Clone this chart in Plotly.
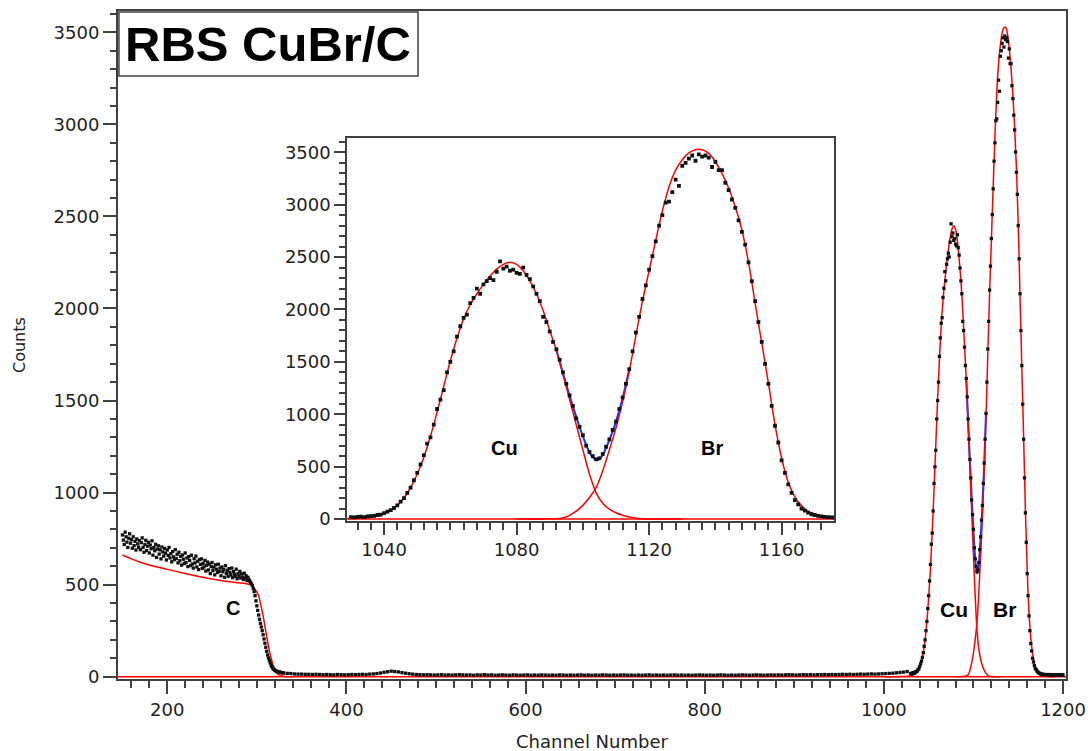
import numpy as np
import plotly.graph_objects as go

# ---------------- measured spectrum (counts per channel) ----------------
c_start, c_step = 150, 1
c_counts = [770, 742, 718, 785, 760, 731, 702, 752, 776, 725,
            744, 698, 760, 712, 735, 688, 748, 721, 703, 739,
            690, 728, 754, 702, 676, 718, 741, 685, 709, 730,
            672, 715, 695, 738, 660, 702, 684, 719, 648, 693,
            711, 666, 689, 640, 705, 678, 655, 697, 671, 634,
            688, 659, 702, 645, 668, 624, 680, 651, 636, 690,
            642, 665, 618, 676, 630, 654, 606, 661, 638, 615,
            672, 620, 645, 598, 652, 631, 604, 660, 612, 590,
            641, 618, 655, 596, 627, 582, 636, 610, 640, 588,
            615, 596, 632, 574, 605, 623, 580, 612, 560, 598,
            620, 576, 595, 553, 608, 584, 566, 611, 572, 590,
            548, 596, 570, 582, 540, 603, 561, 578, 545, 587,
            566, 552, 590, 538, 571, 556, 545, 584, 532, 560,
            548, 572, 536, 558, 541, 528, 562, 534, 548, 522,
            540, 528, 520, 512, 505, 495, 480, 462, 440, 412,
            385, 360, 335, 312, 290, 270, 250, 228, 205, 182,
            160, 138, 118, 102, 88, 74, 62, 52, 45, 40,
            35, 32, 30, 28, 26, 25, 24, 23, 22, 21]

flat_start, flat_step = 330, 4
flat_counts = [20, 18, 17, 15, 14, 14, 13, 13, 12, 13, 12, 11, 12, 11, 10, 12, 11, 10, 11, 12, 11, 12, 13, 12, 14,
               15, 17, 20, 24, 27, 30, 28, 26, 22, 19, 16, 14, 12, 11, 10, 11, 10, 9, 10, 11, 9, 10, 9, 10, 11,
               10, 9, 10, 8, 10, 9, 11, 9, 10, 8, 9, 10, 9, 8, 10, 9, 8, 9, 10, 8, 9, 8, 10, 9, 8,
               9, 8, 10, 9, 8, 9, 8, 9, 10, 8, 9, 8, 9, 8, 10, 9, 8, 9, 8, 9, 10, 8, 9, 8, 9,
               8, 9, 10, 8, 9, 8, 9, 8, 9, 10, 8, 9, 8, 9, 8, 9, 10, 9, 8, 9, 8, 9, 10, 9, 8,
               9, 8, 9, 10, 9, 8, 9, 10, 9, 8, 9, 10, 9, 10, 9, 10, 11, 10, 9, 10, 11, 10, 11, 10, 11,
               11, 12, 11, 12, 11, 12, 13, 12, 13, 12, 13, 14, 13, 14, 15, 14, 15, 16, 17, 18, 19, 21, 23, 25, 28]

peak_start, peak_step = 1030, 1
peak_counts = [18, 15, 20, 22, 18, 25, 28, 30, 38, 42,
               55, 70, 85, 105, 130, 165, 200, 250, 300, 370,
               440, 520, 610, 720, 780, 900, 1050, 1140, 1230, 1400,
               1500, 1600, 1740, 1840, 1920, 1950, 2060, 2110, 2200, 2150,
               2240, 2270, 2300, 2280, 2360, 2460, 2390, 2410, 2370, 2380,
               2350, 2340, 2400, 2330, 2290, 2220, 2150, 2080, 1930, 1880,
               1790, 1690, 1620, 1520, 1400, 1290, 1180, 1080, 960, 880,
               800, 700, 640, 600, 570, 580, 620, 690, 760, 850,
               930, 1050, 1160, 1290, 1430, 1600, 1780, 1930, 2100, 2230,
               2380, 2510, 2650, 2800, 2900, 3020, 3030, 3120, 3240, 3180,
               3370, 3400, 3440, 3470, 3420, 3480, 3460, 3470, 3450, 3360,
               3410, 3330, 3330, 3210, 3140, 3050, 2970, 2850, 2740, 2620,
               2450, 2270, 2080, 1880, 1690, 1480, 1290, 1080, 890, 730,
               560, 440, 330, 250, 180, 140, 100, 80, 60, 45,
               38, 30, 25, 20, 18, 15,
               14, 12, 13, 11, 12, 10, 11, 12, 10, 11, 9, 10, 11, 10, 9,
               10, 11, 9, 10, 10, 9, 10, 11, 10, 9]

# ---------------- fitted components ----------------
c_fit_ch = [150, 160, 170, 180, 190, 200, 210, 220, 230, 240, 250, 260, 270, 280, 288, 292, 296,
            300, 302, 304, 306, 308, 310, 312, 314, 316, 318, 320, 322, 325, 330, 340]
c_fit = [661, 640, 622, 607, 594, 583, 572, 561, 550, 540, 531, 523, 516, 510, 505, 500, 488,
         460, 440, 400, 355, 305, 245, 190, 140, 100, 65, 38, 22, 10, 3, 0]

cu_fit_ch = [1000, 1020, 1026, 1030, 1032, 1034, 1036, 1038, 1040, 1042, 1044, 1046, 1048, 1050,
             1052, 1054, 1056, 1058, 1060, 1062, 1064, 1066, 1068, 1070, 1072, 1074, 1076, 1078,
             1080, 1082, 1084, 1086, 1088, 1090, 1092, 1094, 1096, 1098, 1100, 1102, 1104, 1106,
             1108, 1110, 1112, 1114, 1116, 1118, 1120, 1130]
cu_fit = [0, 1, 3, 5, 8, 11, 18, 30, 50, 80, 130, 200, 300, 430,
          590, 790, 1020, 1265, 1510, 1725, 1910, 2045, 2150, 2240, 2320, 2385, 2430, 2450,
          2430, 2370, 2270, 2150, 1990, 1800, 1613, 1380, 1140, 900, 660, 430, 250, 150,
          95, 60, 35, 18, 8, 3, 1, 0]

br_fit_ch = [1080, 1090, 1094, 1096, 1098, 1100, 1102, 1104, 1106, 1108, 1110, 1112, 1114, 1116,
             1118, 1120, 1122, 1124, 1126, 1128, 1130, 1132, 1134, 1136, 1138, 1140, 1142, 1144,
             1146, 1148, 1150, 1152, 1154, 1156, 1158, 1160, 1162, 1164, 1166, 1168, 1170, 1172,
             1174, 1176, 1180, 1190]
br_fit = [0, 2, 10, 35, 75, 130, 205, 300, 460, 659, 870, 1120, 1410, 1750,
          2080, 2370, 2660, 2940, 3170, 3330, 3430, 3495, 3525, 3525, 3490, 3410, 3300, 3160,
          2980, 2760, 2450, 2060, 1680, 1300, 900, 580, 350, 210, 125, 72, 42, 26,
          16, 9, 3, 0]

sum_fit_ch = [1092, 1094, 1096, 1098, 1100, 1102, 1103, 1104, 1105, 1106, 1108, 1110, 1112, 1114]
sum_fit = [1615, 1390, 1175, 975, 790, 635, 590, 562, 572, 610, 754, 930, 1155, 1428]

base_ch = [140, 1210]
base_val = [0, 0]

# ---------------- ticks / labels ----------------
main_xticks = [200, 400, 600, 800, 1000, 1200]
main_yticks = [0, 500, 1000, 1500, 2000, 2500, 3000, 3500]
inset_xticks = [1040, 1080, 1120, 1160]
inset_yticks = [0, 500, 1000, 1500, 2000, 2500, 3000, 3500]

# build measured arrays
def seg(start, step, vals):
    return start + step * np.arange(len(vals))

data_x = np.concatenate([seg(c_start, c_step, c_counts),
                         seg(flat_start, flat_step, flat_counts),
                         seg(peak_start, peak_step, peak_counts)])
data_y = np.concatenate([c_counts, flat_counts, peak_counts])

RED = "rgb(255,0,0)"
BLUE = "rgb(0,60,255)"
AX = "#404040"

fig = go.Figure()
for xa, ya, msize in (("x", "y", 3.3), ("x2", "y2", 3.8)):
    fig.add_trace(go.Scatter(x=base_ch, y=base_val, mode="lines", line=dict(color=RED, width=1.5),
                             xaxis=xa, yaxis=ya, hoverinfo="skip"))
    fig.add_trace(go.Scatter(x=sum_fit_ch, y=sum_fit, mode="lines", line=dict(color=BLUE, width=2, shape="spline"),
                             xaxis=xa, yaxis=ya))
    fig.add_trace(go.Scatter(x=c_fit_ch, y=c_fit, mode="lines", line=dict(color=RED, width=1.5, shape="spline"),
                             xaxis=xa, yaxis=ya))
    fig.add_trace(go.Scatter(x=cu_fit_ch, y=cu_fit, mode="lines", line=dict(color=RED, width=1.5, shape="spline"),
                             xaxis=xa, yaxis=ya))
    fig.add_trace(go.Scatter(x=br_fit_ch, y=br_fit, mode="lines", line=dict(color=RED, width=1.5, shape="spline"),
                             xaxis=xa, yaxis=ya))
    fig.add_trace(go.Scatter(x=data_x, y=data_y, mode="markers",
                             marker=dict(symbol="square", size=msize, color="#111111", line=dict(width=0)),
                             xaxis=xa, yaxis=ya))

tickfont = dict(family="DejaVu Sans", size=18, color="#222222")
common = dict(showline=True, linecolor=AX, linewidth=2, mirror=True, ticks="outside",
              tickcolor=AX, tickwidth=1.5, showgrid=False, zeroline=False, tickfont=tickfont,
              automargin=False)

fig.update_layout(
    width=1088, height=751,
    margin=dict(l=118, r=22, t=11, b=72),
    plot_bgcolor="white", paper_bgcolor="white",
    showlegend=False,
    xaxis=dict(domain=[0, 1], anchor="y", range=[145, 1203.3], tickmode="array", tickvals=main_xticks,
               ticklen=13, minor=dict(dtick=20, tick0=0, ticklen=7, ticks="outside", tickcolor=AX, tickwidth=1.5),
               **common),
    yaxis=dict(domain=[0, 1], anchor="x", range=[-12.5, 3615.8], tickmode="array", tickvals=main_yticks,
               ticklen=13, minor=dict(dtick=100, tick0=0, ticklen=6, ticks="outside", tickcolor=AX, tickwidth=1.5),
               **common),
    xaxis2=dict(domain=[0.2419, 0.7556], anchor="y2", range=[1028.9, 1175.9], tickmode="array",
                tickvals=inset_xticks, ticklen=12,
                minor=dict(dtick=4, tick0=0, ticklen=7, ticks="outside", tickcolor=AX, tickwidth=1.5),
                **common),
    yaxis2=dict(domain=[0.2370, 0.8094], anchor="x2", range=[-16.2, 3634], tickmode="array",
                tickvals=inset_yticks, ticklen=11,
                minor=dict(dtick=100, tick0=0, ticklen=6, ticks="outside", tickcolor=AX, tickwidth=1.5),
                **common),
)

# title box
fig.add_shape(type="rect", xref="paper", yref="paper", x0=0.001, x1=0.3165, y0=0.9027, y1=0.9985,
              fillcolor="white", line=dict(color=AX, width=1.5), layer="above")
fig.add_annotation(xref="paper", yref="paper", x=0.1582, y=0.9499, text="<b>RBS CuBr/C</b>",
                   showarrow=False, xanchor="center", yanchor="middle",
                   font=dict(family="Liberation Sans", size=49, color="black"))

# axis titles
fig.add_annotation(xref="paper", yref="paper", x=0.5, y=-0.0935, text="Channel Number", showarrow=False,
                   xanchor="center", yanchor="middle", font=dict(family="DejaVu Sans", size=18, color="#222222"))
fig.add_annotation(xref="paper", yref="paper", x=-0.1044, y=0.5, text="Counts", showarrow=False, textangle=-90,
                   xanchor="center", yanchor="middle", font=dict(family="DejaVu Sans", size=16, color="#222222"))

# peak labels
lab = dict(family="Liberation Sans", color="black")
fig.add_annotation(xref="x", yref="y", x=273.4, y=373, text="<b>C</b>", showarrow=False, font=dict(size=20, **lab))
fig.add_annotation(xref="x", yref="y", x=1078, y=365, text="<b>Cu</b>", showarrow=False, font=dict(size=21, **lab))
fig.add_annotation(xref="x", yref="y", x=1134.5, y=365, text="<b>Br</b>", showarrow=False, font=dict(size=21, **lab))
fig.add_annotation(xref="x2", yref="y2", x=1076.4, y=682, text="<b>Cu</b>", showarrow=False, font=dict(size=20, **lab))
fig.add_annotation(xref="x2", yref="y2", x=1139.0, y=675, text="<b>Br</b>", showarrow=False, font=dict(size=20, **lab))

fig.write_html("out.html", config={"displayModeBar": False},
               post_script="document.body.style.margin='0';document.body.style.overflow='hidden';")
